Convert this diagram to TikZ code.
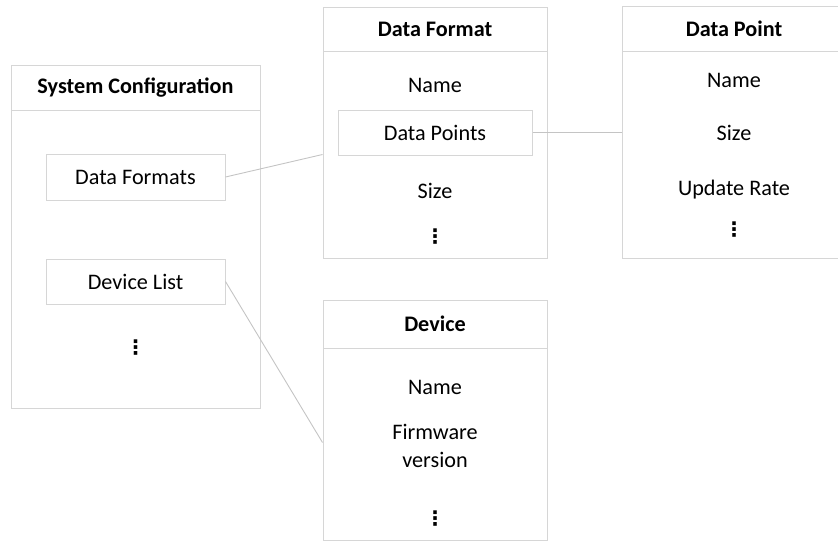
\documentclass[tikz,border=0pt]{standalone}
\usepackage{fontspec}
\setmainfont{Carlito}
\newfontfamily\symfont{DejaVu Sans}
\begin{document}
\begin{tikzpicture}[x=1pt,y=-1pt,
  frame/.style={draw=boxgray,line width=1pt,rectangle,inner sep=0pt},
  field/.style={draw=boxgray,line width=1pt,rectangle,inner sep=0pt,font=\fontsize{22.2}{26}\selectfont},
  label/.style={inner sep=0pt,font=\fontsize{22.2}{28}\selectfont,align=center},
  title/.style={inner sep=0pt,font=\fontsize{22.2}{26}\selectfont\bfseries},
  more/.style={inner sep=0pt,font=\fontsize{20}{22}\selectfont\symfont\bfseries},
  divider/.style={draw=boxgray,line width=1pt},
  link/.style={draw=linkgray,line width=0.9pt}]
\definecolor{boxgray}{HTML}{D6D6D6}
\definecolor{linkgray}{HTML}{C4C4C4}
\useasboundingbox (0,0) rectangle (838,541);
\clip (0,0) rectangle (838,541);

% System Configuration
\node[frame,minimum width=249pt,minimum height=343pt] (sys) at (135.5,236.5) {};
\draw[divider] (11,110) -- (260,110);
\node[title] (systitle) at (135.5,87.5) {System Configuration};
\node[field,minimum width=179pt,minimum height=46pt] (fmts) at (135.5,177) {Data Formats};
\node[field,minimum width=179pt,minimum height=45pt] (devs) at (135.5,281.5) {Device List};
\node[more] (sysmore) at (135.5,348) {⋮};

% Data Format
\node[frame,minimum width=224pt,minimum height=251pt] (fmt) at (435,132.5) {};
\draw[divider] (323,51) -- (547,51);
\node[title] (fmttitle) at (435,29) {Data Format};
\node[label] (fmtname) at (435,85) {Name};
\node[field,minimum width=194pt,minimum height=45pt] (pts) at (435,132.5) {Data Points};
\node[label] (fmtsize) at (435,191) {Size};
\node[more] (fmtmore) at (435,237) {⋮};

% Data Point
\node[frame,minimum width=224pt,minimum height=252pt] (pt) at (734,132) {};
\draw[divider] (622,51) -- (846,51);
\node[title] (pttitle) at (734,28.5) {Data Point};
\node[label] (ptname) at (734,80) {Name};
\node[label] (ptsize) at (734,133) {Size};
\node[label] (ptrate) at (734,190) {Update Rate};
\node[more] (ptmore) at (734,230) {⋮};

% Device
\node[frame,minimum width=224pt,minimum height=240pt] (dev) at (435,420) {};
\draw[divider] (323,348) -- (547,348);
\node[title] (devtitle) at (435,324) {Device};
\node[label] (devname) at (435,387) {Name};
\node[label] (devfw) at (435,446) {Firmware\\version};
\node[more] (devmore) at (435,519) {⋮};

% links between list fields and their element types
\coordinate (fmtin) at ([yshift=-148pt]fmt.north west);
\coordinate (devin) at ([yshift=-143pt]dev.north west);
\draw[link] (fmts.east) -- (fmtin);
\draw[link] (devs.east) -- (devin);
\draw[link] (pts.east) -- (pt.west |- pts.east);
\end{tikzpicture}
\end{document}
